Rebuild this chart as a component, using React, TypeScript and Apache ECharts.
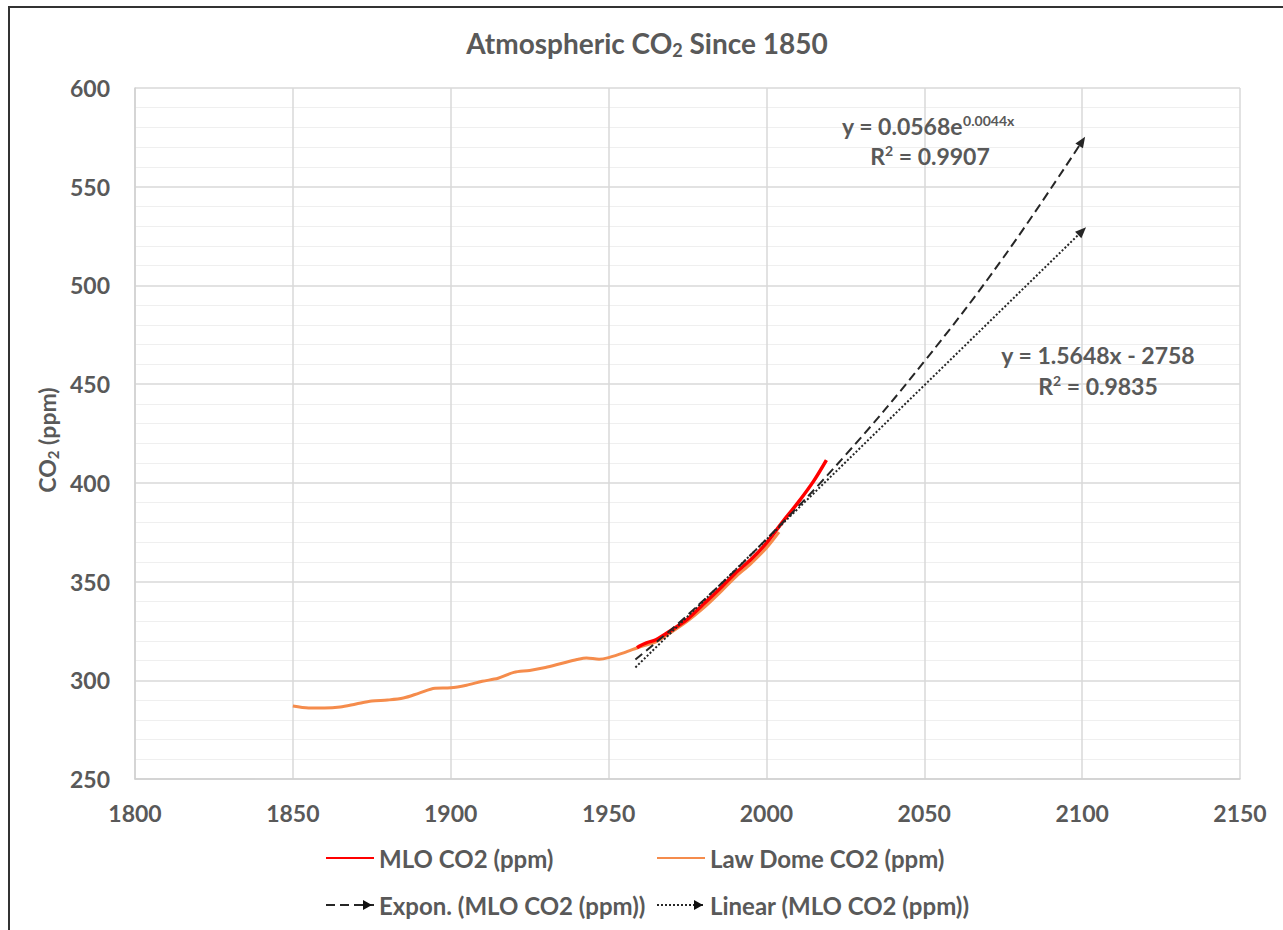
import React, { useEffect, useRef } from "react";
import * as echarts from "echarts";

// Law Dome ice core CO2 (ppm)
const lawDomeYears = [1850, 1855, 1860, 1865, 1870, 1875, 1880, 1885, 1890, 1895, 1900, 1905, 1910, 1915, 1920, 1925, 1930, 1935, 1940, 1943, 1947, 1950, 1955, 1960, 1965, 1970, 1975, 1980, 1985, 1990, 1995, 2000, 2004];
const lawDomeValues = [287, 286, 286, 286.5, 288, 289.5, 290, 291, 293.5, 296, 296.2, 297.5, 299.5, 301, 304, 305, 306.5, 308.5, 310.5, 311.3, 310.7, 311.5, 314, 317, 319.5, 324.5, 330, 336.5, 344, 352, 359, 367, 375];

// Mauna Loa CO2 (ppm)
const mloYears = [1959, 1960, 1962, 1965, 1970, 1975, 1980, 1985, 1990, 1995, 2000, 2005, 2010, 2015, 2019];
const mloValues = [316.5, 317.5, 319, 320.5, 325.5, 331, 338.5, 346, 354, 361, 369.5, 380, 390, 401, 411.5];

// Trend lines
const expYears = [1958.5, 1975, 2000, 2025, 2050, 2075, 2100];
const expValues = [310.5, 333, 371.5, 414, 461.5, 514, 573];
const linYears = [1958.5, 2100];
const linValues = [306.5, 527.5];

const xTicks = [1800, 1850, 1900, 1950, 2000, 2050, 2100, 2150];
const yTicks = [250, 300, 350, 400, 450, 500, 550, 600];

const FONT = "Lato, 'Open Sans', sans-serif";
const GREY = "#595959";

function pairs(xs: number[], ys: number[]) {
  return xs.map((x, i) => [x, ys[i]]);
}

function withArrow(xs: number[], ys: number[], rot: number) {
  return xs.map((x, i) =>
    i === xs.length - 1
      ? { value: [x, ys[i]], symbol: "triangle", symbolSize: [9, 11], symbolRotate: rot }
      : { value: [x, ys[i]], symbol: "none" }
  );
}

const txt = (size: number) => ({ fontFamily: FONT, fontSize: size, fontWeight: "bold", fill: GREY, color: GREY });

export default function App() {
  const ref = useRef<HTMLDivElement>(null);
  useEffect(() => {
    if (!ref.current) return;
    const chart = echarts.init(ref.current, null, { renderer: "svg" });
    const legendBase = {
      itemWidth: 48,
      itemHeight: 14,
      itemStyle: { opacity: 0 },
      textStyle: { fontFamily: FONT, fontSize: 24, fontWeight: "bold" as const, color: GREY },
    };
    chart.setOption({
      animation: false,
      backgroundColor: "#ffffff",
      grid: { left: 135, right: 43, top: 88, bottom: 151, containLabel: false },
      xAxis: {
        type: "value",
        min: xTicks[0],
        max: xTicks[xTicks.length - 1],
        interval: 50,
        axisLine: { show: true, lineStyle: { color: "#d0d0d0", width: 1.5 } },
        axisTick: { show: false },
        axisLabel: {
          margin: 22,
          fontFamily: FONT,
          fontSize: 23,
          fontWeight: "bold",
          color: GREY,
          formatter: (v: number) => String(v),
        },
        splitLine: { show: true, lineStyle: { color: "#d9d9d9", width: 1.5 } },
      },
      yAxis: {
        type: "value",
        min: yTicks[0],
        max: yTicks[yTicks.length - 1],
        interval: 50,
        axisLine: { show: true, lineStyle: { color: "#d0d0d0", width: 1.5 } },
        axisTick: { show: false },
        axisLabel: { margin: 25, fontFamily: FONT, fontSize: 23, fontWeight: "bold", color: GREY },
        splitLine: { show: true, lineStyle: { color: "#d9d9d9", width: 1.5 } },
        minorTick: { show: false, splitNumber: 5 },
        minorSplitLine: { show: true, lineStyle: { color: "#efefef", width: 1 } },
      },
      legend: [
        { ...legendBase, left: 320, top: 841, data: ["MLO CO2 (ppm)"] },
        { ...legendBase, left: 651, top: 841, data: ["Law Dome CO2 (ppm)"] },
        { ...legendBase, left: 320, top: 888, data: ["Expon. (MLO CO2 (ppm))"] },
        { ...legendBase, left: 651, top: 888, data: ["Linear (MLO CO2 (ppm))"] },
      ],
      series: [
        {
          name: "Law Dome CO2 (ppm)",
          type: "line",
          data: pairs(lawDomeYears, lawDomeValues),
          symbol: "none",
          smooth: 0.3,
          lineStyle: { color: "#f58c4c", width: 3 },
          itemStyle: { color: "#f58c4c" },
          z: 2,
        },
        {
          name: "MLO CO2 (ppm)",
          type: "line",
          data: pairs(mloYears, mloValues),
          symbol: "none",
          smooth: 0.3,
          lineStyle: { color: "#ff0000", width: 3.5 },
          itemStyle: { color: "#ff0000" },
          z: 3,
        },
        {
          name: "Expon. (MLO CO2 (ppm))",
          type: "line",
          data: withArrow(expYears, expValues, -32.7),
          symbol: "none",
          showSymbol: true,
          smooth: 0.4,
          lineStyle: { color: "#262626", width: 2, type: [9, 5] },
          itemStyle: { color: "#262626" },
          z: 4,
        },
        {
          name: "Linear (MLO CO2 (ppm))",
          type: "line",
          data: withArrow(linYears, linValues, -45.7),
          symbol: "none",
          showSymbol: true,
          lineStyle: { color: "#262626", width: 2, type: [2, 2] },
          itemStyle: { color: "#262626" },
          z: 4,
        },
      ],
      graphic: [
        { type: "line", z: 100, shape: { x1: 8, y1: 7, x2: 1283, y2: 7 }, style: { stroke: "#333333", lineWidth: 2 } },
        { type: "line", z: 100, shape: { x1: 9, y1: 6, x2: 9, y2: 930 }, style: { stroke: "#333333", lineWidth: 2 } },
        // legend arrowheads
        { type: "polygon", z: 100, shape: { points: [[363, 900], [372, 905], [363, 910]] }, style: { fill: "#111111" } },
        { type: "polygon", z: 100, shape: { points: [[694, 900], [703, 905], [694, 910]] }, style: { fill: "#111111" } },
        {
          type: "text",
          z: 100,
          x: 647,
          y: 43,
          style: {
            text: "{t|Atmospheric CO}{s|2}{t| Since 1850}",
            align: "center",
            verticalAlign: "middle",
            rich: {
              t: txt(28),
              s: { ...txt(18), padding: [14, 0, 0, 0] },
            },
          },
        },
        {
          type: "text",
          z: 100,
          x: 47,
          y: 440,
          rotation: Math.PI / 2,
          style: {
            text: "{t|CO}{s|2}{t| (ppm)}",
            align: "center",
            verticalAlign: "middle",
            rich: {
              t: txt(23),
              s: { ...txt(15), padding: [12, 0, 0, 0] },
            },
          },
        },
        {
          type: "text",
          z: 100,
          x: 842,
          y: 126,
          style: {
            text: "{t|y = 0.0568e}{s|0.0044x}",
            align: "left",
            verticalAlign: "middle",
            rich: {
              t: txt(23),
              s: { ...txt(14), padding: [0, 0, 12, 0] },
            },
          },
        },
        {
          type: "text",
          z: 100,
          x: 930,
          y: 156,
          style: {
            text: "{t|R}{s|2}{t| = 0.9907}",
            align: "center",
            verticalAlign: "middle",
            rich: {
              t: txt(23),
              s: { ...txt(14), padding: [0, 0, 12, 0] },
            },
          },
        },
        {
          type: "text",
          z: 100,
          x: 1098,
          y: 355,
          style: {
            text: "y = 1.5648x - 2758",
            align: "center",
            verticalAlign: "middle",
            font: `bold 23px ${FONT}`,
            fill: GREY,
          },
        },
        {
          type: "text",
          z: 100,
          x: 1098,
          y: 386,
          style: {
            text: "{t|R}{s|2}{t| = 0.9835}",
            align: "center",
            verticalAlign: "middle",
            rich: {
              t: txt(23),
              s: { ...txt(14), padding: [0, 0, 12, 0] },
            },
          },
        },
      ],
    });
    return () => chart.dispose();
  }, []);
  return (
    <div
      ref={ref}
      style={{ position: "fixed", left: 0, top: 0, width: 1283, height: 930, background: "#fff" }}
    />
  );
}
